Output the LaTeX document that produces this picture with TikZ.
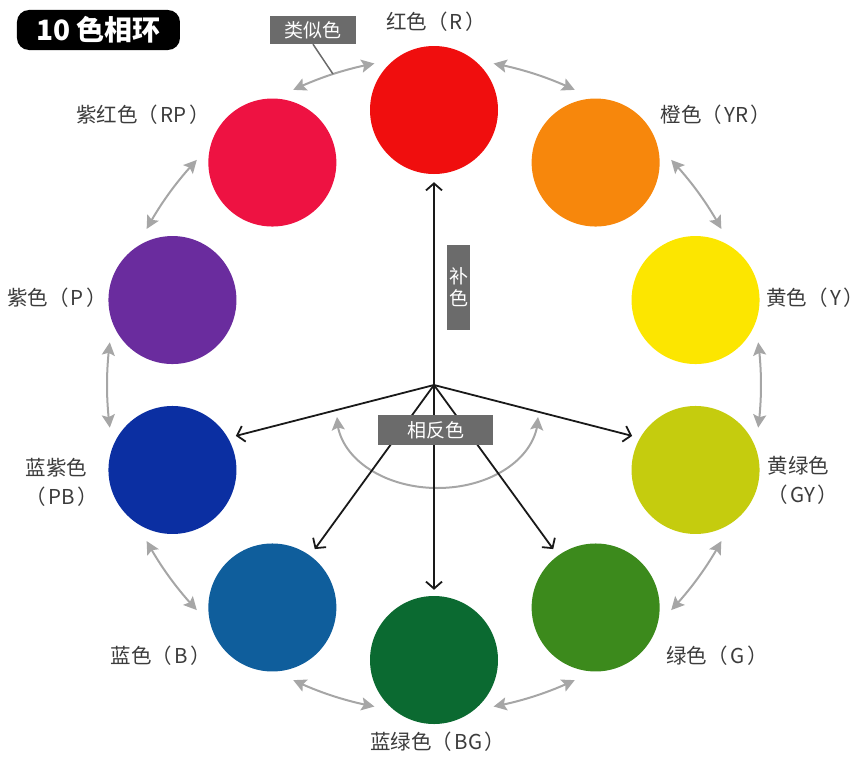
\documentclass[tikz,border=0pt]{standalone}
\usepackage{fontspec}
\setmainfont{Noto Sans CJK SC}
\usetikzlibrary{arrows.meta,bending,calc}
\definecolor{cR}{HTML}{F00E0E}
\definecolor{cYR}{HTML}{F7870C}
\definecolor{cY}{HTML}{FCE600}
\definecolor{cGY}{HTML}{C5CC0E}
\definecolor{cG}{HTML}{3C8A1C}
\definecolor{cBG}{HTML}{0B6A31}
\definecolor{cB}{HTML}{0F5E9C}
\definecolor{cPB}{HTML}{0B2FA2}
\definecolor{cP}{HTML}{6A2C9E}
\definecolor{cRP}{HTML}{EE1242}
\definecolor{labgray}{HTML}{3C3C3C}
\definecolor{boxgray}{HTML}{6B6B6B}
\definecolor{arrgray}{HTML}{A6A6A6}
\newcommand\myp[1]{（\hspace{0.12em}#1\hspace{0.12em}）}
\begin{document}
\begin{tikzpicture}[x=1pt,y=1pt,
  disc/.style={circle,minimum size=128pt,inner sep=0pt},
  lab/.style={text=labgray,font=\fontsize{20.5}{29}\selectfont,inner sep=0pt},
  graybox/.style={fill=boxgray,text=white,font=\fontsize{19}{22}\selectfont,inner sep=0pt},
  simarr/.style={draw=arrgray,line width=2pt,{Stealth[length=13pt,width=13pt,inset=2.5pt]}-{Stealth[length=13pt,width=13pt,inset=2.5pt]}},
  comparr/.style={draw=black!90,line width=1.8pt,-{Straight Barb[length=7pt,width=16pt]},shorten >=8pt}
]
\useasboundingbox (-434,-371) rectangle (432,385);
\coordinate (c) at (0,0);
% colour discs
\node[disc,fill=cR]  (R)  at (90:275) {};
\node[disc,fill=cYR] (YR) at (54:275) {};
\node[disc,fill=cY]  (Y)  at (18:275) {};
\node[disc,fill=cGY] (GY) at (-18:275) {};
\node[disc,fill=cG]  (G)  at (-54:275) {};
\node[disc,fill=cBG] (BG) at (-90:275) {};
\node[disc,fill=cB]  (B)  at (-126:275) {};
\node[disc,fill=cPB] (PB) at (-162:275) {};
\node[disc,fill=cP]  (P)  at (162:275) {};
\node[disc,fill=cRP] (RP) at (126:275) {};
% similar-colour arrows
\foreach \m [evaluate=\m as \a using \m+7.5, evaluate=\m as \b using \m-7.5] in {108,72,36,0,-36,-72,-108,-144,180,144}
  \draw[simarr] (\a:327) arc[start angle=\a,end angle=\b,radius=327];
\coordinate (sim) at (108:327);
% opposite-colour arc
\coordinate (oppL) at (-97,-32);
\draw[simarr] (oppL) arc[start angle=180,end angle=360,x radius=100.5,y radius=71];
% complementary / opposite arrows
\draw[comparr] (c) -- (R);
\draw[comparr] (c) -- (PB.30);
\draw[comparr] (c) -- (GY.150);
\draw[comparr] (c) -- (B);
\draw[comparr,shorten >=6pt] (c) -- (BG);
\draw[comparr] (c) -- (G);
% grey boxes
\node[graybox,minimum width=86pt,minimum height=28pt] (simbox) at (-121,355) {类似色};
\draw[draw=boxgray,line width=1.5pt] (simbox.south) -- (sim);
\node[graybox,minimum width=115pt,minimum height=30pt] (oppbox) at (1.5,-45) {相反色};
\node[graybox,minimum width=23pt,minimum height=85pt,align=center,font=\fontsize{19}{22}\selectfont] (compbox) at (24.5,97.5) {补\\色};
% title
\node[fill=black,rounded corners=12pt,minimum width=163pt,minimum height=40pt,text=white,inner sep=0pt,font=\bfseries\fontsize{28}{30}\selectfont] (title) at (-335.5,355) {10 色相环};
% labels
\node[lab] (lR)  at (2,363)     {红色\myp{R}};
\node[lab] (lYR) at (282,270)   {橙色\myp{YR}};
\node[lab] (lY)  at (381,87)    {黄色\myp{Y}};
\node[lab,align=left] (lGY) at (369,-95) {黄绿色\\\myp{GY}};
\node[lab] (lG)  at (283,-271)  {绿色\myp{G}};
\node[lab] (lBG) at (4,-357)    {蓝绿色\myp{BG}};
\node[lab] (lB)  at (-273,-271) {蓝色\myp{B}};
\node[lab,align=left] (lPB) at (-372,-97) {蓝紫色\\\myp{PB}};
\node[lab] (lP)  at (-377,87)   {紫色\myp{P}};
\node[lab] (lRP) at (-291,270)  {紫红色\myp{RP}};
\end{tikzpicture}
\end{document}
